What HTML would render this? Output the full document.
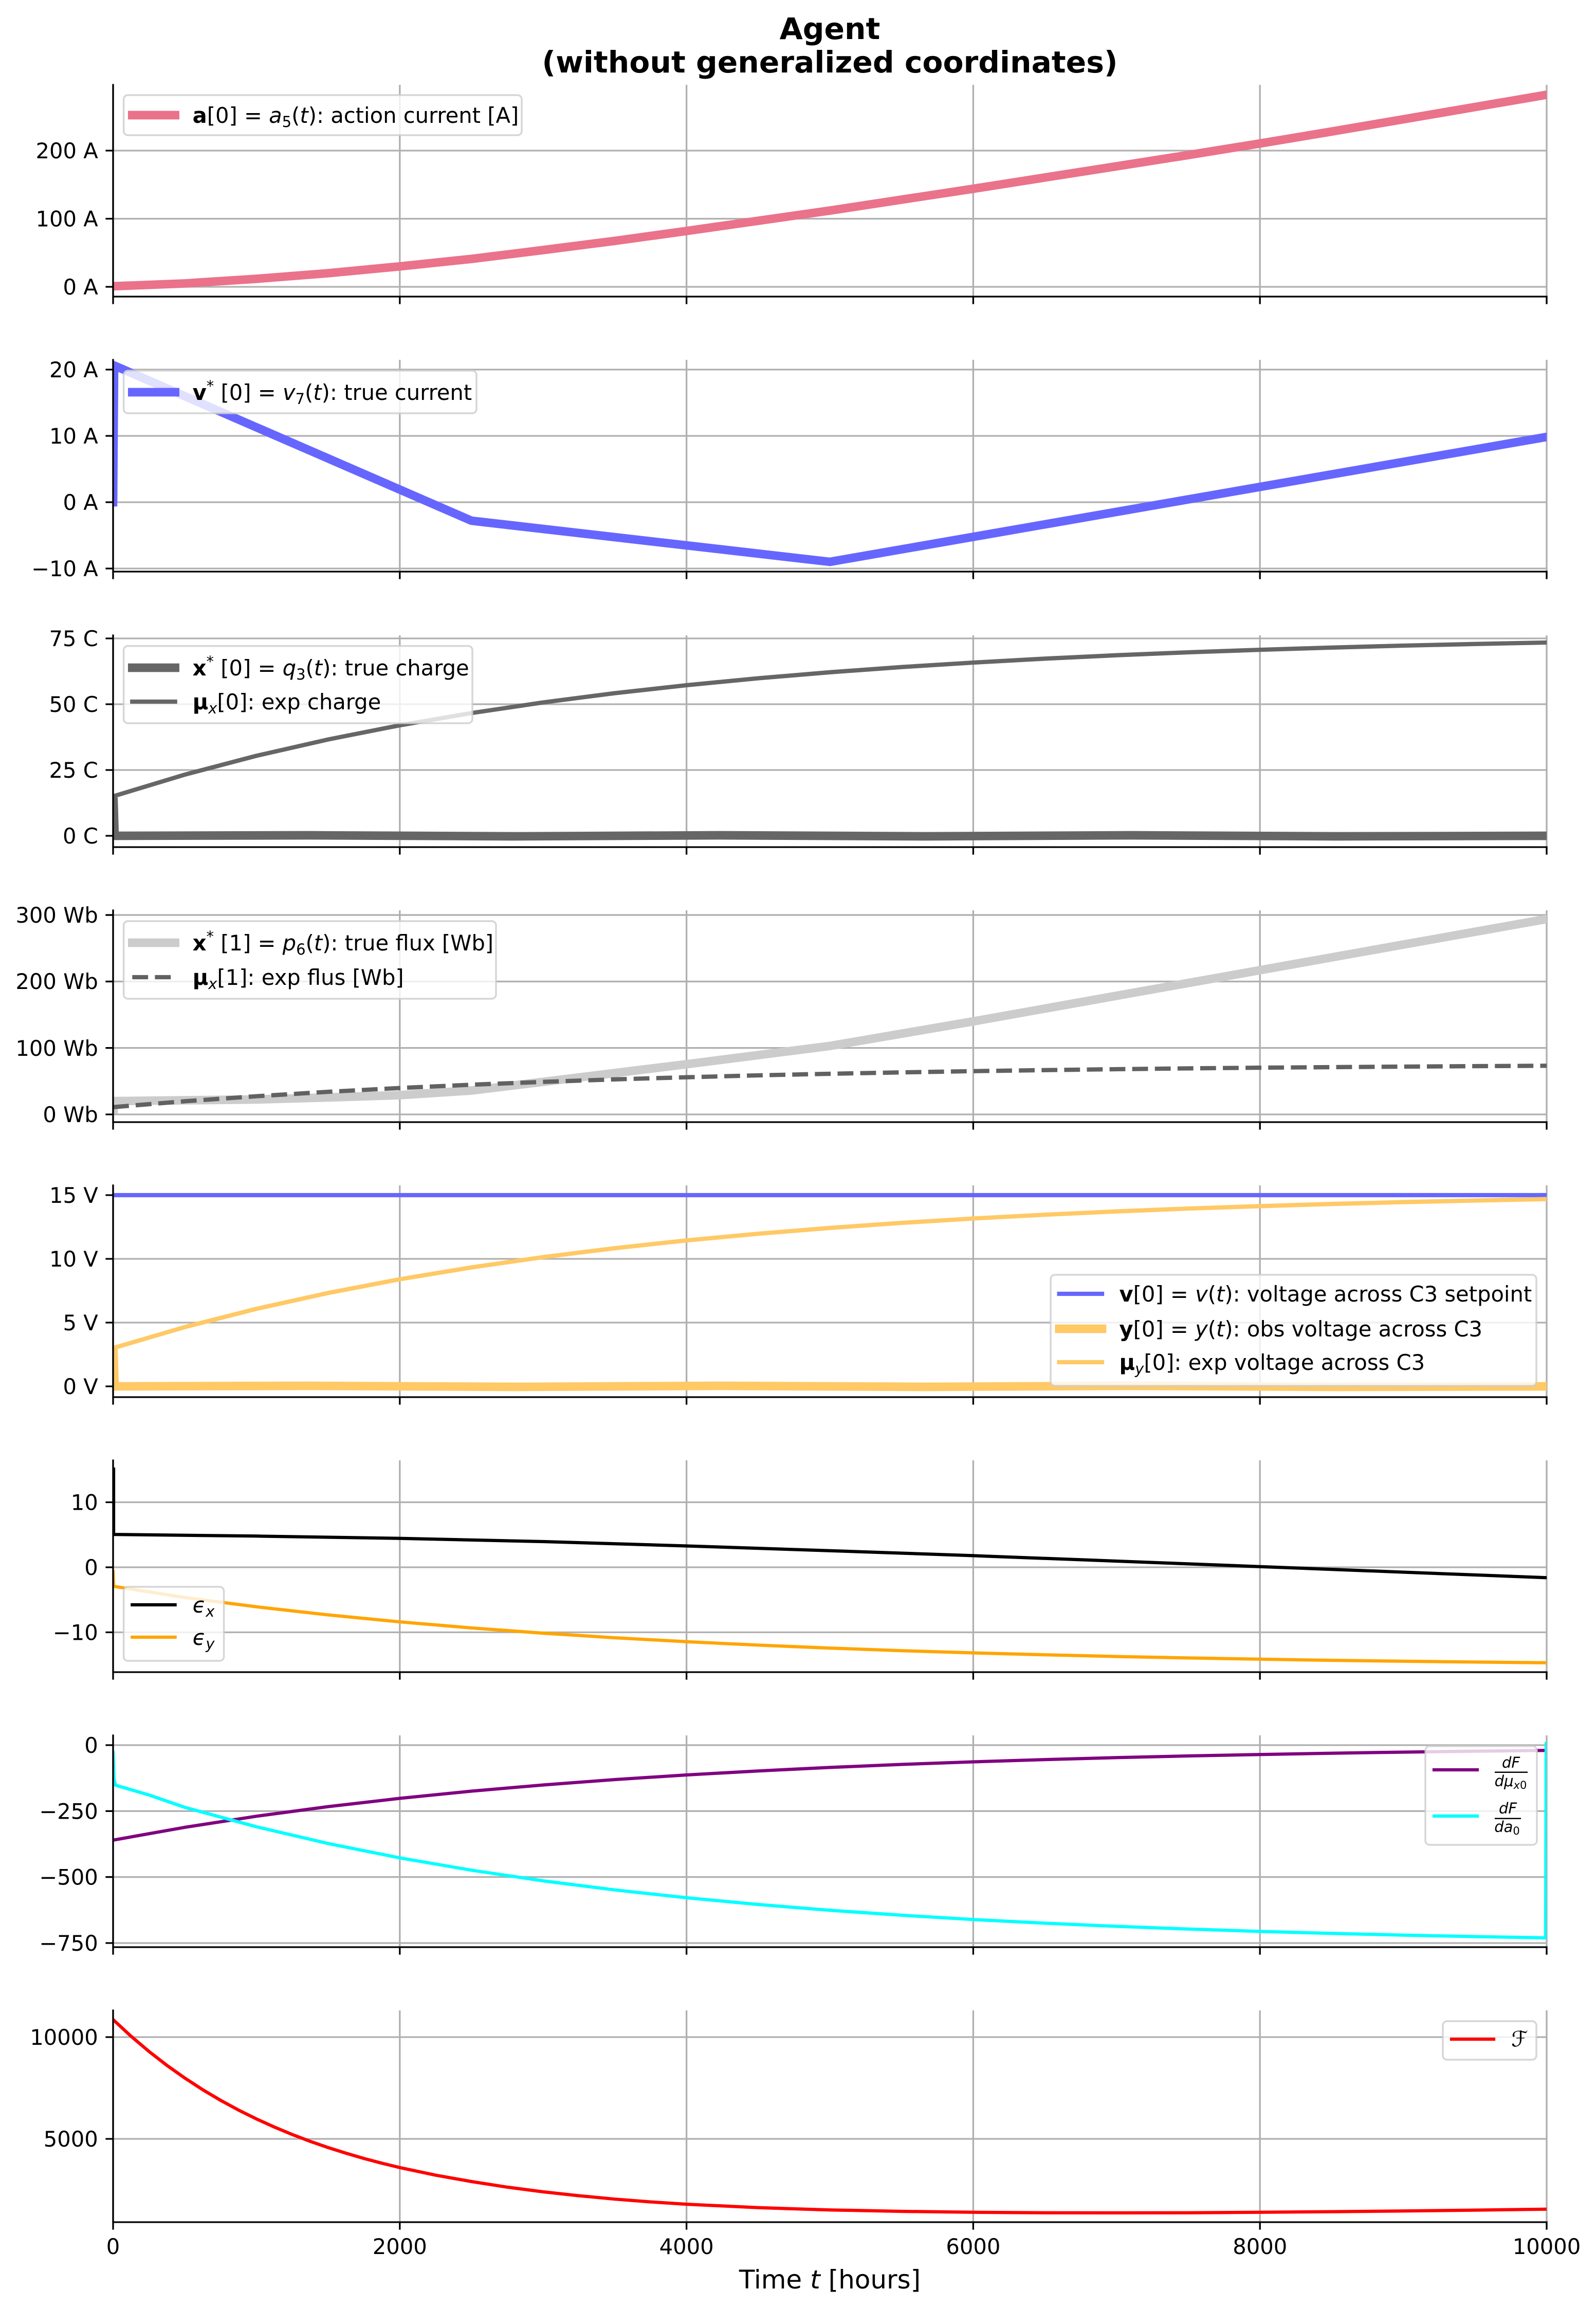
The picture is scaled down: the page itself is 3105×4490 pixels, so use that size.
<!DOCTYPE html>
<html>
<head>
<meta charset="utf-8">
<style>
html,body{margin:0;padding:0;background:#fff;}
svg{display:block;}
text{font-family:"DejaVu Sans","Liberation Sans",sans-serif;fill:#000;}
.tk{font-size:41.67px;text-anchor:end;}
.xt{font-size:41.67px;text-anchor:middle;}
.lg{font-size:41.67px;}
.grid{stroke:#b0b0b0;stroke-width:3.33;fill:none;}
.sp{stroke:#000;stroke-width:3.33;fill:none;stroke-linecap:square;}
.tm{stroke:#000;stroke-width:3.33;fill:none;}
.ln{fill:none;stroke-linejoin:round;stroke-linecap:square;}
.lf{fill:#fff;fill-opacity:0.8;stroke:#cccccc;stroke-opacity:0.8;stroke-width:3.5;}
</style>
</head>
<body>
<svg width="3105" height="4490" viewBox="0 0 3105 4490" xmlns="http://www.w3.org/2000/svg">
<rect x="0" y="0" width="3105" height="4490" fill="#fff"/>
<defs>
<clipPath id="c1"><rect x="220" y="165" width="2789" height="412"/></clipPath>
<clipPath id="c2"><rect x="220" y="700" width="2789" height="412"/></clipPath>
<clipPath id="c3"><rect x="220" y="1236" width="2789" height="412"/></clipPath>
<clipPath id="c4"><rect x="220" y="1771" width="2789" height="412"/></clipPath>
<clipPath id="c5"><rect x="220" y="2306" width="2789" height="412"/></clipPath>
<clipPath id="c6"><rect x="220" y="2841" width="2789" height="412"/></clipPath>
<clipPath id="c7"><rect x="220" y="3376" width="2789" height="412"/></clipPath>
<clipPath id="c8"><rect x="220" y="3911" width="2789" height="412"/></clipPath>
</defs>

<!-- Title -->
<text x="1614.5" y="76" font-size="58.3" font-weight="bold" text-anchor="middle">Agent</text>
<text x="1614.5" y="141" font-size="58.3" font-weight="bold" text-anchor="middle">(without generalized coordinates)</text>

<!-- ================= PANEL 1 ================= -->
<g>
<path class="grid" d="M220,165V577M777.8,165V577M1335.6,165V577M1893.4,165V577M2451.2,165V577M3009,165V577"/>
<path class="grid" d="M220,558H3009M220,425.5H3009M220,293H3009"/>
<g clip-path="url(#c1)">
<polyline class="ln" stroke="#ea728a" stroke-width="16.67" points="220,556.9 359.45,551.4 498.9,542.4 638.35,531.5 777.8,518.25 917.25,503.7 1056.7,486.45 1196.15,468.6 1335.6,449.35 1475.05,429.5 1614.5,409.6 1753.95,388.4 1893.4,367.2 2032.85,345.3 2172.3,323.5 2311.75,301.6 2451.2,279.1 2590.65,255.9 2730.1,232.05 2869.55,208.2 3009,184.35"/>
</g>
<path class="sp" d="M220,165V577H3009"/>
<path class="tm" d="M220,558H205.4M220,425.5H205.4M220,293H205.4"/>
<path class="tm" d="M220,577v14.6M777.8,577v14.6M1335.6,577v14.6M1893.4,577v14.6M2451.2,577v14.6M3009,577v14.6"/>
<text class="tk" x="190.8" y="573">0 A</text>
<text class="tk" x="190.8" y="440.5">100 A</text>
<text class="tk" x="190.8" y="308">200 A</text>
<rect class="lf" x="240.6" y="185" width="774.4" height="78" rx="8.3"/>
<line x1="257.3" y1="224" x2="340.6" y2="224" stroke="#ea728a" stroke-width="16.67" stroke-linecap="square"/>
<text class="lg" x="374.6" y="239"><tspan font-weight="bold">a</tspan>[0] = <tspan font-style="italic">a</tspan><tspan font-size="29" dy="8">5</tspan><tspan dy="-8">(</tspan><tspan font-style="italic">t</tspan>): action current [A]</text>
</g>

<!-- ================= PANEL 2 ================= -->
<g>
<path class="grid" d="M220,700V1112M777.8,700V1112M1335.6,700V1112M1893.4,700V1112M2451.2,700V1112M3009,700V1112"/>
<path class="grid" d="M220,719H3009M220,848H3009M220,977H3009M220,1106H3009"/>
<g clip-path="url(#c2)">
<polyline class="ln" stroke="#6666ff" stroke-width="16.67" points="220,977 222,711 917.25,1013 1614.5,1093 3009,850"/>
</g>
<path class="sp" d="M220,700V1112H3009"/>
<path class="tm" d="M220,719H205.4M220,848H205.4M220,977H205.4M220,1106H205.4"/>
<path class="tm" d="M220,1112v14.6M777.8,1112v14.6M1335.6,1112v14.6M1893.4,1112v14.6M2451.2,1112v14.6M3009,1112v14.6"/>
<text class="tk" x="190.8" y="734">20 A</text>
<text class="tk" x="190.8" y="863">10 A</text>
<text class="tk" x="190.8" y="992">0 A</text>
<text class="tk" x="190.8" y="1121">−10 A</text>
<rect class="lf" x="240.6" y="721" width="686.4" height="83" rx="8.3"/>
<line x1="257.3" y1="763" x2="340.6" y2="763" stroke="#6666ff" stroke-width="16.67" stroke-linecap="square"/>
<text class="lg" x="374.6" y="778"><tspan font-weight="bold">v</tspan><tspan font-size="29" dy="-17">*</tspan><tspan dy="17"> [0] = </tspan><tspan font-style="italic">v</tspan><tspan font-size="29" dy="8">7</tspan><tspan dy="-8">(</tspan><tspan font-style="italic">t</tspan>): true current</text>
</g>

<!-- ================= PANEL 3 ================= -->
<g>
<path class="grid" d="M220,1236V1648M777.8,1236V1648M1335.6,1236V1648M1893.4,1236V1648M2451.2,1236V1648M3009,1236V1648"/>
<path class="grid" d="M220,1242H3009M220,1370H3009M220,1498H3009M220,1626H3009"/>
<g clip-path="url(#c3)">
<polyline class="ln" stroke="#666666" stroke-width="16.67" points="221,1560 223,1626 600,1625 1000,1627 1400,1625 1800,1627 2200,1625 2600,1627 3009,1626"/>
<polyline class="ln" stroke="#666666" stroke-width="8.33" points="220,1549.2 359.45,1507.0 498.9,1470.3 638.35,1438.6 777.8,1411.0 917.25,1387.2 1056.7,1366.5 1196.15,1348.5 1335.6,1333.0 1475.05,1319.5 1614.5,1307.8 1753.95,1297.7 1893.4,1289.0 2032.85,1281.3 2172.3,1274.7 2311.75,1269.0 2451.2,1264.1 2590.65,1259.8 2730.1,1256.0 2869.55,1252.8 3009,1250.0"/>
</g>
<path class="sp" d="M220,1236V1648H3009"/>
<path class="tm" d="M220,1242H205.4M220,1370H205.4M220,1498H205.4M220,1626H205.4"/>
<path class="tm" d="M220,1648v14.6M777.8,1648v14.6M1335.6,1648v14.6M1893.4,1648v14.6M2451.2,1648v14.6M3009,1648v14.6"/>
<text class="tk" x="190.8" y="1257">75 C</text>
<text class="tk" x="190.8" y="1385">50 C</text>
<text class="tk" x="190.8" y="1513">25 C</text>
<text class="tk" x="190.8" y="1641">0 C</text>
<rect class="lf" x="240.6" y="1256.6" width="678.4" height="150.4" rx="8.3"/>
<line x1="257.3" y1="1299" x2="340.6" y2="1299" stroke="#666666" stroke-width="16.67" stroke-linecap="square"/>
<line x1="257.3" y1="1365" x2="340.6" y2="1365" stroke="#666666" stroke-width="8.33" stroke-linecap="square"/>
<text class="lg" x="374.6" y="1314"><tspan font-weight="bold">x</tspan><tspan font-size="29" dy="-17">*</tspan><tspan dy="17"> [0] = </tspan><tspan font-style="italic">q</tspan><tspan font-size="29" dy="8">3</tspan><tspan dy="-8">(</tspan><tspan font-style="italic">t</tspan>): true charge</text>
<text class="lg" x="374.6" y="1380"><tspan font-weight="bold">μ</tspan><tspan font-size="29" font-style="italic" dy="8">x</tspan><tspan dy="-8">[0]: exp charge</tspan></text>
</g>

<!-- ================= PANEL 4 ================= -->
<g>
<path class="grid" d="M220,1771V2183M777.8,1771V2183M1335.6,1771V2183M1893.4,1771V2183M2451.2,1771V2183M3009,1771V2183"/>
<path class="grid" d="M220,1780.1H3009M220,1909.4H3009M220,2038.7H3009M220,2168H3009"/>
<g clip-path="url(#c4)">
<polyline class="ln" stroke="#cccccc" stroke-width="16.67" points="221,2158 221,2142.1 498.9,2138.9 638.35,2135.0 777.8,2130.5 917.25,2121.5 1056.7,2104.6 1335.6,2070.4 1614.5,2034.8 1893.4,1987.0 2172.3,1937.2 2451.2,1887.4 2730.1,1837.6 3009,1787.9"/>
<polyline fill="none" stroke="#616161" stroke-width="8.33" stroke-dasharray="30.8 13.3" stroke-linejoin="round" points="220,2153.8 359.45,2142.4 498.9,2132.6 638.35,2124.0 777.8,2116.6 917.25,2110.2 1056.7,2104.7 1196.15,2099.8 1335.6,2095.7 1475.05,2092.0 1614.5,2088.9 1753.95,2086.2 1893.4,2083.8 2032.85,2081.8 2172.3,2080.0 2311.75,2078.4 2451.2,2077.1 2590.65,2076.0 2730.1,2075.0 2869.55,2074.1 3009,2073.3"/>
</g>
<path class="sp" d="M220,1771V2183H3009"/>
<path class="tm" d="M220,1780.1H205.4M220,1909.4H205.4M220,2038.7H205.4M220,2168H205.4"/>
<path class="tm" d="M220,2183v14.6M777.8,2183v14.6M1335.6,2183v14.6M1893.4,2183v14.6M2451.2,2183v14.6M3009,2183v14.6"/>
<text class="tk" x="190.8" y="1795">300 Wb</text>
<text class="tk" x="190.8" y="1924">200 Wb</text>
<text class="tk" x="190.8" y="2054">100 Wb</text>
<text class="tk" x="190.8" y="2183">0 Wb</text>
<rect class="lf" x="240.6" y="1792" width="724.4" height="151" rx="8.3"/>
<line x1="257.3" y1="1834" x2="340.6" y2="1834" stroke="#cccccc" stroke-width="16.67" stroke-linecap="square"/>
<line x1="257.3" y1="1901" x2="340.6" y2="1901" stroke="#616161" stroke-width="8.33" stroke-dasharray="30.8 13.3"/>
<text class="lg" x="374.6" y="1849"><tspan font-weight="bold">x</tspan><tspan font-size="29" dy="-17">*</tspan><tspan dy="17"> [1] = </tspan><tspan font-style="italic">p</tspan><tspan font-size="29" dy="8">6</tspan><tspan dy="-8">(</tspan><tspan font-style="italic">t</tspan>): true flux [Wb]</text>
<text class="lg" x="374.6" y="1916"><tspan font-weight="bold">μ</tspan><tspan font-size="29" font-style="italic" dy="8">x</tspan><tspan dy="-8">[1]: exp flus [Wb]</tspan></text>
</g>

<!-- ================= PANEL 5 ================= -->
<g>
<path class="grid" d="M220,2306V2718M777.8,2306V2718M1335.6,2306V2718M1893.4,2306V2718M2451.2,2306V2718M3009,2306V2718"/>
<path class="grid" d="M220,2325H3009M220,2449H3009M220,2573H3009M220,2697H3009"/>
<g clip-path="url(#c5)">
<line x1="220" y1="2325" x2="3009" y2="2325" stroke="#6666ff" stroke-width="8.33"/>
<polyline class="ln" stroke="#ffc966" stroke-width="16.67" points="221,2633 223,2697 600,2696 1000,2698 1400,2696 1800,2698 2200,2696 2600,2698 3009,2697"/>
<polyline class="ln" stroke="#ffc966" stroke-width="8.33" points="220,2622.6 359.45,2581.7 498.9,2546.2 638.35,2515.4 777.8,2488.7 917.25,2465.6 1056.7,2445.6 1196.15,2428.2 1335.6,2413.1 1475.05,2400.1 1614.5,2388.8 1753.95,2379.0 1893.4,2370.5 2032.85,2363.1 2172.3,2356.7 2311.75,2351.1 2451.2,2346.4 2590.65,2342.2 2730.1,2338.6 2869.55,2335.5 3009,2332.7"/>
</g>
<path class="sp" d="M220,2306V2718H3009"/>
<path class="tm" d="M220,2325H205.4M220,2449H205.4M220,2573H205.4M220,2697H205.4"/>
<path class="tm" d="M220,2718v14.6M777.8,2718v14.6M1335.6,2718v14.6M1893.4,2718v14.6M2451.2,2718v14.6M3009,2718v14.6"/>
<text class="tk" x="190.8" y="2340">15 V</text>
<text class="tk" x="190.8" y="2464">10 V</text>
<text class="tk" x="190.8" y="2588">5 V</text>
<text class="tk" x="190.8" y="2712">0 V</text>
<rect class="lf" x="2044" y="2480" width="945" height="216" rx="8.3"/>
<line x1="2060.7" y1="2517" x2="2144" y2="2517" stroke="#6666ff" stroke-width="8.33" stroke-linecap="square"/>
<line x1="2060.7" y1="2585" x2="2144" y2="2585" stroke="#ffc966" stroke-width="16.67" stroke-linecap="square"/>
<line x1="2060.7" y1="2650" x2="2144" y2="2650" stroke="#ffc966" stroke-width="8.33" stroke-linecap="square"/>
<text class="lg" x="2177.5" y="2532"><tspan font-weight="bold">v</tspan>[0] = <tspan font-style="italic">v</tspan>(<tspan font-style="italic">t</tspan>): voltage across C3 setpoint</text>
<text class="lg" x="2177.5" y="2600"><tspan font-weight="bold">y</tspan>[0] = <tspan font-style="italic">y</tspan>(<tspan font-style="italic">t</tspan>): obs voltage across C3</text>
<text class="lg" x="2177.5" y="2665"><tspan font-weight="bold">μ</tspan><tspan font-size="29" font-style="italic" dy="8">y</tspan><tspan dy="-8">[0]: exp voltage across C3</tspan></text>
</g>

<!-- ================= PANEL 6 ================= -->
<g>
<path class="grid" d="M220,2841V3253M777.8,2841V3253M1335.6,2841V3253M1893.4,2841V3253M2451.2,2841V3253M3009,2841V3253"/>
<path class="grid" d="M220,2922.5H3009M220,3049H3009M220,3175.5H3009"/>
<g clip-path="url(#c6)">
<polyline class="ln" stroke="#000" stroke-width="6.25" points="221,2858 221,2985.1 498.9,2988.3 777.8,2992.7 1056.7,2999.0 1335.6,3007.5 1614.5,3016.7 1893.4,3026.4 2172.3,3037.0 2451.2,3047.7 2730.1,3058.5 3009,3069.2"/>
<polyline class="ln" stroke="#ffa500" stroke-width="6.25" points="220,3058 221,3086 359.45,3107.8 498.9,3125.9 638.35,3141.6 777.8,3155.2 917.25,3167.0 1056.7,3177.2 1196.15,3186.1 1335.6,3193.8 1475.05,3200.4 1614.5,3206.2 1753.95,3211.2 1893.4,3215.5 2032.85,3219.3 2172.3,3222.6 2311.75,3225.4 2451.2,3227.8 2590.65,3230.0 2730.1,3231.8 2869.55,3233.4 3009,3234.8"/>
</g>
<path class="sp" d="M220,2841V3253H3009"/>
<path class="tm" d="M220,2922.5H205.4M220,3049H205.4M220,3175.5H205.4"/>
<path class="tm" d="M220,3253v14.6M777.8,3253v14.6M1335.6,3253v14.6M1893.4,3253v14.6M2451.2,3253v14.6M3009,3253v14.6"/>
<text class="tk" x="190.8" y="2937.5">10</text>
<text class="tk" x="190.8" y="3064">0</text>
<text class="tk" x="190.8" y="3190.5">−10</text>
<rect class="lf" x="240.6" y="3087" width="195" height="144" rx="8.3"/>
<line x1="257.3" y1="3122" x2="340.6" y2="3122" stroke="#000" stroke-width="6.25" stroke-linecap="square"/>
<line x1="257.3" y1="3185" x2="340.6" y2="3185" stroke="#ffa500" stroke-width="6.25" stroke-linecap="square"/>
<text class="lg" x="374.6" y="3137"><tspan font-style="italic">ϵ</tspan><tspan font-size="29" font-style="italic" dy="8">x</tspan></text>
<text class="lg" x="374.6" y="3200"><tspan font-style="italic">ϵ</tspan><tspan font-size="29" font-style="italic" dy="8">y</tspan></text>
</g>

<!-- ================= PANEL 7 ================= -->
<g>
<path class="grid" d="M220,3376V3788M777.8,3376V3788M1335.6,3376V3788M1893.4,3376V3788M2451.2,3376V3788M3009,3376V3788"/>
<path class="grid" d="M220,3395H3009M220,3523.3H3009M220,3651.6H3009M220,3780H3009"/>
<g clip-path="url(#c7)">
<polyline class="ln" stroke="#800080" stroke-width="6.25" points="220,3579.8 359.45,3554.9 498.9,3533.3 638.35,3514.6 777.8,3498.5 917.25,3484.5 1056.7,3472.5 1196.15,3462.0 1335.6,3453.0 1475.05,3445.2 1614.5,3438.4 1753.95,3432.5 1893.4,3427.5 2032.85,3423.1 2172.3,3419.3 2311.75,3416.0 2451.2,3413.2 2590.65,3410.7 2730.1,3408.6 2869.55,3406.8 3009,3405.2"/>
<polyline class="ln" stroke="#00ffff" stroke-width="6.25" points="220,3410 222,3463 225,3473 290,3492 359.45,3516.0 498.9,3553.8 638.35,3586.4 777.8,3614.3 917.25,3638.3 1056.7,3659.0 1196.15,3676.7 1335.6,3691.9 1475.05,3705.0 1614.5,3716.3 1753.95,3725.9 1893.4,3734.3 2032.85,3741.4 2172.3,3747.5 2311.75,3752.8 2451.2,3757.4 2590.65,3761.2 2730.1,3764.6 2869.55,3767.5 3007,3769.9 3008,3392"/>
</g>
<path class="sp" d="M220,3376V3788H3009"/>
<path class="tm" d="M220,3395H205.4M220,3523.3H205.4M220,3651.6H205.4M220,3780H205.4"/>
<path class="tm" d="M220,3788v14.6M777.8,3788v14.6M1335.6,3788v14.6M1893.4,3788v14.6M2451.2,3788v14.6M3009,3788v14.6"/>
<text class="tk" x="190.8" y="3410">0</text>
<text class="tk" x="190.8" y="3538.3">−250</text>
<text class="tk" x="190.8" y="3666.6">−500</text>
<text class="tk" x="190.8" y="3795">−750</text>
<rect class="lf" x="2773" y="3397" width="217" height="192" rx="8.3"/>
<line x1="2790" y1="3443" x2="2874" y2="3443" stroke="#800080" stroke-width="6.25" stroke-linecap="square"/>
<line x1="2790" y1="3533" x2="2874" y2="3533" stroke="#00ffff" stroke-width="6.25" stroke-linecap="square"/>
<text x="2939.5" y="3439" font-size="29" font-style="italic" text-anchor="middle">dF</text>
<line x1="2908" y1="3447.7" x2="2972" y2="3447.7" stroke="#000" stroke-width="2.5"/>
<text x="2939" y="3475" font-size="29" text-anchor="middle"><tspan font-style="italic">dμ</tspan><tspan font-size="21" font-style="italic" dy="5">x</tspan><tspan font-size="21">0</tspan></text>
<text x="2933.5" y="3528" font-size="29" font-style="italic" text-anchor="middle">dF</text>
<line x1="2908" y1="3537.7" x2="2959" y2="3537.7" stroke="#000" stroke-width="2.5"/>
<text x="2932" y="3564" font-size="29" text-anchor="middle"><tspan font-style="italic">da</tspan><tspan font-size="21" dy="5">0</tspan></text>
</g>

<!-- ================= PANEL 8 ================= -->
<g>
<path class="grid" d="M220,3911V4323M777.8,3911V4323M1335.6,3911V4323M1893.4,3911V4323M2451.2,3911V4323M3009,3911V4323"/>
<path class="grid" d="M220,3963H3009M220,4161H3009"/>
<g clip-path="url(#c8)">
<polyline class="ln" stroke="#ff0000" stroke-width="6.25" points="220,3928.9 254.9,3961.3 289.7,3990.8 324.6,4017.9 359.45,4042.6 394.3,4065.3 429.2,4086.0 464.0,4104.9 498.9,4122.2 533.8,4138.0 568.6,4152.5 603.5,4165.8 638.35,4177.9 673.2,4188.9 708.1,4199.1 742.9,4208.3 777.8,4216.8 847.5,4231.6 917.25,4244.0 987.0,4254.9 1056.7,4264.0 1126.4,4271.6 1196.15,4278.2 1265.9,4283.6 1335.6,4288.1 1475.05,4294.8 1614.5,4299.2 1753.95,4302.0 1893.4,4303.8 2032.85,4304.7 2172.3,4304.9 2311.75,4304.7 2451.2,4303.8 2590.65,4302.6 2730.1,4301.2 2869.55,4299.6 3009,4297.8"/>
</g>
<path class="sp" d="M220,3911V4323H3009"/>
<path class="tm" d="M220,3963H205.4M220,4161H205.4"/>
<path class="tm" d="M220,4323v14.6M777.8,4323v14.6M1335.6,4323v14.6M1893.4,4323v14.6M2451.2,4323v14.6M3009,4323v14.6"/>
<text class="tk" x="190.8" y="3978">10000</text>
<text class="tk" x="190.8" y="4176">5000</text>
<text class="xt" x="220" y="4385">0</text>
<text class="xt" x="777.8" y="4385">2000</text>
<text class="xt" x="1335.6" y="4385">4000</text>
<text class="xt" x="1893.4" y="4385">6000</text>
<text class="xt" x="2451.2" y="4385">8000</text>
<text class="xt" x="3009" y="4385">10000</text>
<rect class="lf" x="2807" y="3932" width="182" height="75" rx="8.3"/>
<line x1="2824" y1="3967" x2="2906" y2="3967" stroke="#ff0000" stroke-width="6.25" stroke-linecap="square"/>
<text class="lg" x="2940" y="3981" font-style="italic">ℱ</text>
</g>

<!-- X label -->
<text x="1614.5" y="4452" font-size="50" text-anchor="middle">Time <tspan font-style="italic">t</tspan> [hours]</text>
</svg>
</body>
</html>
